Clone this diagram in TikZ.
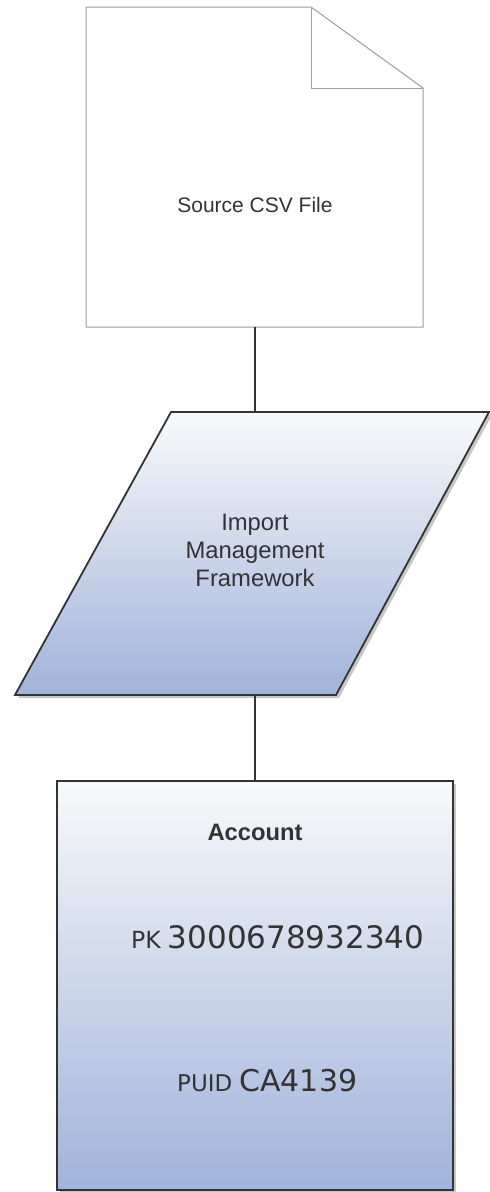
\documentclass[tikz,border=0pt]{standalone}
\usepackage{fontspec}
\setmainfont{Liberation Sans}
\newfontfamily\djv{DejaVu Sans}
\begin{document}
\begin{tikzpicture}[x=1pt,y=-1pt,
  conn/.style={draw=black!80, line width=1.5pt},
  docline/.style={draw=black!38, line width=1pt},
  shapeline/.style={draw=black!80, line width=1.8pt, line join=miter},
  gradfill/.style={top color=gradTop, bottom color=gradBot},
  shadowfill/.style={fill=black!22},
  lbl/.style={inner sep=0pt, text=black!80}]
\definecolor{gradTop}{HTML}{F8F9FA}
\definecolor{gradBot}{HTML}{A0B3DA}
\useasboundingbox (0,0) rectangle (490,1192);
\fill[white] (0,0) rectangle (490,1192);

% document shape
\coordinate (d1) at (86,7);
\coordinate (d2) at (311,7);
\coordinate (d3) at (423,88);
\coordinate (d4) at (423,327);
\coordinate (d5) at (86,327);
\coordinate (df) at (311,88);
\draw[docline, fill=white] (d1) -- (d2) -- (d3) -- (d4) -- (d5) -- cycle;
\draw[docline] (d2) -- (df) -- (d3);
\node[lbl, anchor=base, font=\fontsize{21}{25}\selectfont] (src) at (255,212) {Source CSV File};
\coordinate (docbot) at (255,327);

% parallelogram
\coordinate (p1) at (171,412);
\coordinate (p2) at (489,412);
\coordinate (p3) at (336,695);
\coordinate (p4) at (15,695);
\fill[shadowfill] ([shift={(3,3)}]p1) -- ([shift={(3,3)}]p2) -- ([shift={(3,3)}]p3) -- ([shift={(3,3)}]p4) -- cycle;
\path[gradfill] (p1) -- (p2) -- (p3) -- (p4) -- cycle;
\draw[shapeline] (p1) -- (p2) -- (p3) -- (p4) -- cycle;
\node[lbl, align=center, font=\fontsize{23.8}{28}\selectfont] (imf) at (255,550.5) {Import\\Management\\Framework};
\coordinate (ptop) at (255,412);
\coordinate (pbot) at (255,695);

% account box
\coordinate (a1) at (57,781);
\coordinate (a2) at (453,1190);
\fill[shadowfill] ([shift={(3,3)}]a1) rectangle ([shift={(3,3)}]a2);
\path[gradfill] (a1) rectangle (a2);
\draw[shapeline] (a1) rectangle (a2);
\coordinate (atop) at (255,781);
\node[lbl, anchor=base, font=\bfseries\fontsize{23.75}{28}\selectfont] (acc) at (255,840.5) {Account};
\node[lbl, anchor=base west] (pk) at (131,948) {\djv\fontsize{23.6}{28}\selectfont PK\hspace{7pt}\fontsize{31}{36}\selectfont 3000678932340};
\node[lbl, anchor=base west] (puid) at (177,1091) {\djv\fontsize{23}{28}\selectfont PUID\hspace{7pt}\fontsize{30}{36}\selectfont CA4139};

% connectors
\draw[conn] (docbot) -- (ptop);
\draw[conn] (pbot) -- (atop);
\end{tikzpicture}
\end{document}
